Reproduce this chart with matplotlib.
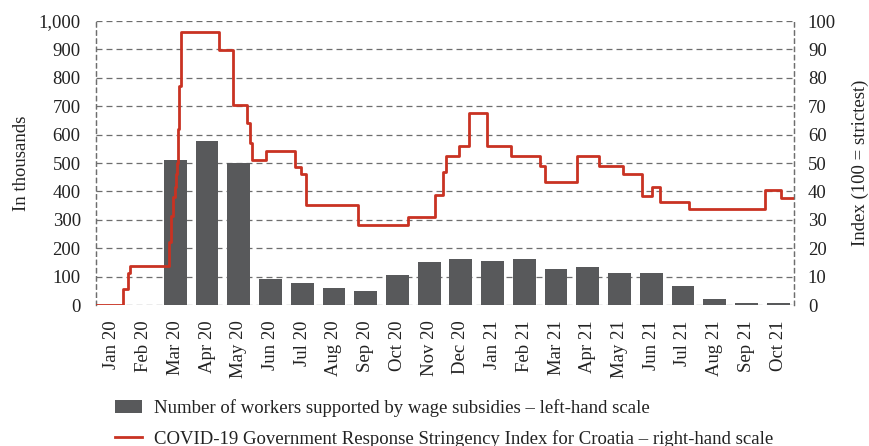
import matplotlib
matplotlib.use('Agg')
import matplotlib.pyplot as plt
import pandas as pd
import numpy as np
from matplotlib.patches import Patch
from matplotlib.lines import Line2D

months = ['Jan 20', 'Feb 20', 'Mar 20', 'Apr 20', 'May 20', 'Jun 20', 'Jul 20', 'Aug 20',
          'Sep 20', 'Oct 20', 'Nov 20', 'Dec 20', 'Jan 21', 'Feb 21', 'Mar 21', 'Apr 21',
          'May 21', 'Jun 21', 'Jul 21', 'Aug 21', 'Sep 21', 'Oct 21']
workers = [0, 0, 510, 577, 500, 93, 78, 61, 49, 106, 151, 162,
           155, 162, 127, 134, 113, 113, 67, 21, 7, 7]

stringency_dates = ['2020-01-01', '2020-01-27', '2020-02-01', '2020-02-03', '2020-03-10',
                    '2020-03-12', '2020-03-14', '2020-03-16', '2020-03-17', '2020-03-18',
                    '2020-03-19', '2020-03-20', '2020-03-22', '2020-04-27', '2020-05-11',
                    '2020-05-25', '2020-05-27', '2020-05-29', '2020-06-12', '2020-07-09',
                    '2020-07-15', '2020-07-20', '2020-09-09', '2020-10-27', '2020-11-22',
                    '2020-11-29', '2020-12-02', '2020-12-15', '2020-12-24', '2021-01-11',
                    '2021-02-03', '2021-03-01', '2021-03-06', '2021-04-06', '2021-04-27',
                    '2021-05-20', '2021-06-07', '2021-06-17', '2021-06-24', '2021-07-22',
                    '2021-10-04', '2021-10-19', '2021-11-01']
stringency_values = [0, 5.56, 11.11, 13.89, 22.2,
                     31.5, 38.0, 41.7, 46.3, 50.0,
                     62.0, 77.0, 96.3, 89.8, 70.4,
                     64.0, 57.0, 50.9, 54.2, 48.7,
                     46.3, 35.2, 28.2, 31.0, 38.9,
                     46.9, 52.5, 56.0, 67.6, 56.0,
                     52.5, 48.9, 43.2, 52.5, 48.9,
                     46.1, 38.5, 41.4, 36.1, 33.8,
                     40.5, 37.8, 37.8]

bar_label = 'Number of workers supported by wage subsidies \u2013 left-hand scale'
line_label = 'COVID-19 Government Response Stringency Index for Croatia \u2013 right-hand scale'

BAR_COLOR = '#58595b'
RED = '#c93222'
GRID = '#6e6e6e'

plt.rcParams['font.family'] = ['Liberation Serif', 'DejaVu Serif']
plt.rcParams['font.size'] = 13.5
plt.rcParams['lines.scale_dashes'] = False


def to_pos(s):
    d = pd.Timestamp(s)
    return (d.year - 2020) * 12 + (d.month - 1) + (d.day - 1) / d.days_in_month


xs = [to_pos(s) for s in stringency_dates]

fig = plt.figure(figsize=(8.7, 4.46), dpi=100)
ax = fig.add_axes([96 / 870, 1 - 305 / 446, (794 - 96) / 870, (305 - 21) / 446])
ax2 = ax.twinx()

pos = np.arange(len(months)) + 0.5
ax.bar(pos, workers, width=0.72, color=BAR_COLOR, zorder=2)
ax.set_xlim(0, len(months))
ax.set_ylim(0, 1000)
ax.set_yticks(np.arange(0, 1001, 100))
ax.set_yticklabels([f'{v:,}' for v in range(0, 1001, 100)])
ax.set_xticks(pos)
ax.set_xticklabels(months, rotation=90)
ax.yaxis.grid(True, color=GRID, linestyle=(0, (4.3, 2.9)), linewidth=0.9, zorder=0)
ax.set_axisbelow(True)
ax.tick_params(axis='y', length=0, pad=11, colors='#222222', labelsize=13.5)
ax.tick_params(axis='x', length=0, pad=11, colors='#222222', labelsize=13.5)
ax.set_ylabel('In thousands', color='#222222', labelpad=6)

ax2.step(xs, stringency_values, where='post', color=RED, linewidth=2.0, zorder=3)
ax2.set_ylim(0, 100)
ax2.set_yticks(np.arange(0, 101, 10))
ax2.tick_params(axis='y', length=0, pad=10, colors='#222222', labelsize=13.5)
ax2.set_ylabel('Index (100 = strictest)', color='#222222', labelpad=11)

for a in (ax, ax2):
    a.spines['top'].set_visible(False)
    a.spines['bottom'].set_visible(False)
    for side in ('left', 'right'):
        a.spines[side].set_linestyle((0, (3.0, 2.9)))
        a.spines[side].set_color(GRID)
        a.spines[side].set_linewidth(0.9)

handles = [Patch(facecolor=BAR_COLOR, edgecolor='none'),
           Line2D([], [], color=RED, linewidth=2.0)]
fig.legend(handles, [bar_label, line_label], loc='upper left',
           bbox_to_anchor=(115 / 870, 1 - 399 / 446), frameon=False,
           handlelength=1.45, handletextpad=0.62, labelspacing=0.68,
           borderpad=0, borderaxespad=0, fontsize=13.5, labelcolor='#222222')

fig.savefig('out.png', dpi=100)
